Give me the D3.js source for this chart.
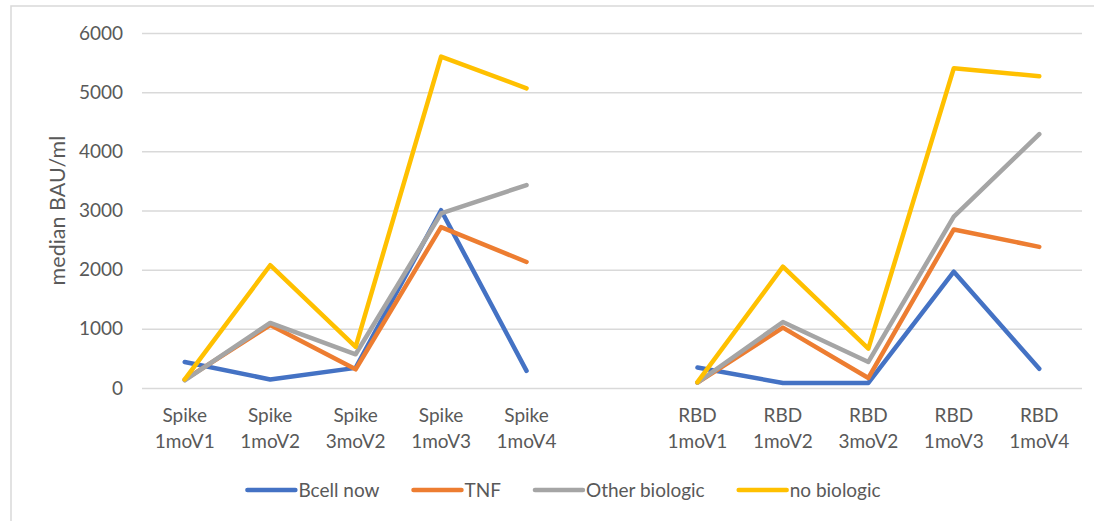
<!DOCTYPE html>
<html>
<head>
<meta charset="utf-8">
<script src="https://cdn.jsdelivr.net/npm/d3@7/dist/d3.min.js"></script>
<style>
  html, body { margin: 0; padding: 0; background: #ffffff; }
  svg { display: block; }
  text { font-family: Lato, "Open Sans", "Liberation Sans", sans-serif; fill: #595959; }
</style>
</head>
<body>
<svg id="chart" width="1094" height="521"></svg>
<script>
// ---- data ----
const groupLabels = ["Spike", "Spike", "Spike", "Spike", "Spike", "", "RBD", "RBD", "RBD", "RBD", "RBD"];
const timeLabels  = ["1moV1", "1moV2", "3moV2", "1moV3", "1moV4", "", "1moV1", "1moV2", "3moV2", "1moV3", "1moV4"];
const seriesNames = ["Bcell now", "TNF", "Other biologic", "no biologic"];
const bcellNow      = [440, 145, 340, 3005, 290, null, 345, 85, 85, 1965, 325];
const tnf           = [140, 1065, 315, 2720, 2130, null, 90, 1020, 170, 2680, 2385];
const otherBiologic = [130, 1100, 570, 2950, 3430, null, 90, 1115, 440, 2895, 4290];
const noBiologic    = [145, 2075, 695, 5600, 5065, null, 100, 2050, 665, 5405, 5270];
const yTicks = [0, 1000, 2000, 3000, 4000, 5000, 6000];
const yTitle = "median BAU/ml";

const seriesValues = [bcellNow, tnf, otherBiologic, noBiologic];
const colors = ["#4472C4", "#ED7D31", "#A5A5A5", "#FFC000"];

// ---- layout ----
const svg = d3.select("#chart");
const plot = { left: 142, right: 1082, top: 33, bottom: 388 };

// chart border
svg.append("rect")
  .attr("x", 11).attr("y", 6)
  .attr("width", 1094).attr("height", 540)
  .attr("fill", "none").attr("stroke", "#d9d9d9").attr("stroke-width", 1.5);

const idx = d3.range(timeLabels.length);
const x = d3.scaleBand().domain(idx).range([plot.left, plot.right]);
const y = d3.scaleLinear().domain([0, 6000]).range([plot.bottom, plot.top]);
const cx = i => x(i) + x.bandwidth() / 2;

// gridlines + y labels via axis
const yAxis = d3.axisLeft(y).tickValues(yTicks).tickSize(-(plot.right - plot.left)).tickPadding(19).tickFormat(d3.format("d"));
const gy = svg.append("g").attr("transform", `translate(${plot.left},0)`).call(yAxis);
gy.select(".domain").remove();
gy.selectAll(".tick line").attr("stroke", "#d9d9d9").attr("stroke-width", 1.5);
gy.selectAll(".tick text").attr("font-size", 19).attr("fill", "#595959")
  .style("font-family", "Lato, 'Open Sans', 'Liberation Sans', sans-serif");

// y title
svg.append("text")
  .attr("transform", `translate(65,${(plot.top + plot.bottom) / 2}) rotate(-90)`)
  .attr("text-anchor", "middle")
  .attr("font-size", 21.5)
  .text(yTitle);

// x labels
const xl = svg.append("g");
idx.forEach(i => {
  if (!timeLabels[i]) return;
  xl.append("text").attr("x", cx(i)).attr("y", 422).attr("text-anchor", "middle").attr("font-size", 19).text(groupLabels[i]);
  xl.append("text").attr("x", cx(i)).attr("y", 448).attr("text-anchor", "middle").attr("font-size", 19).text(timeLabels[i]);
});

// lines
const line = d3.line()
  .defined(d => d != null)
  .x((d, i) => cx(i))
  .y(d => y(d));

seriesValues.forEach((vals, s) => {
  svg.append("path")
    .datum(vals)
    .attr("d", line)
    .attr("fill", "none")
    .attr("stroke", colors[s])
    .attr("stroke-width", 4.5)
    .attr("stroke-linecap", "round")
    .attr("stroke-linejoin", "round");
});

// legend
const leg = svg.append("g");
const items = [];
seriesNames.forEach((name, s) => {
  const g = leg.append("g");
  g.append("line").attr("x1", 0).attr("x2", 48).attr("y1", 0).attr("y2", 0)
    .attr("stroke", colors[s]).attr("stroke-width", 4.5).attr("stroke-linecap", "round");
  const t = g.append("text").attr("x", 51).attr("y", 7).attr("font-size", 19).text(name);
  const w = 51 + t.node().getComputedTextLength();
  items.push({ g, w });
});
const gap = 34;
const total = d3.sum(items, d => d.w) + gap * (items.length - 1);
let start = 564 - total / 2;
items.forEach(it => {
  it.g.attr("transform", `translate(${start},490)`);
  start += it.w + gap;
});
</script>
</body>
</html>
